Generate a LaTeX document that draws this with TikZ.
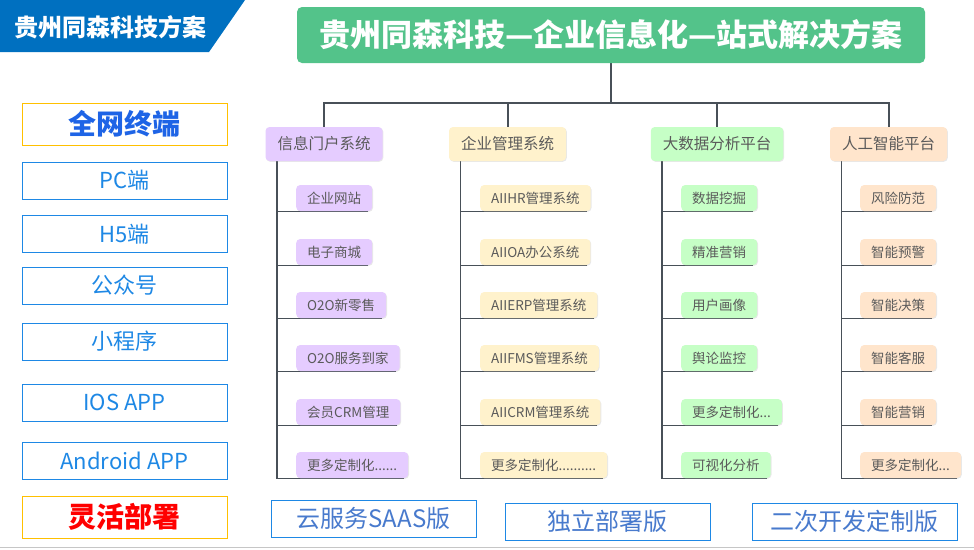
\documentclass[tikz,border=0pt]{standalone}
\usepackage{fontspec}
\setmainfont{Noto Sans CJK SC}
\usepackage{tikz}
\usetikzlibrary{shadows,backgrounds}
\newcommand\fs[1]{\fontsize{#1}{#1}\selectfont}
\definecolor{banner_blue}{RGB}{0,112,192}
\definecolor{title_green}{RGB}{83,195,138}
\definecolor{edge_gray}{RGB}{72,80,88}
\definecolor{node_purple}{RGB}{229,204,255}
\definecolor{node_yellow}{RGB}{255,242,204}
\definecolor{node_green}{RGB}{198,255,198}
\definecolor{node_orange}{RGB}{255,229,204}
\definecolor{text_gray}{RGB}{90,90,90}
\definecolor{term_blue}{RGB}{30,136,229}
\definecolor{deep_blue}{RGB}{30,100,230}
\definecolor{edge_gold}{RGB}{255,192,0}
\definecolor{ver_blue}{RGB}{72,122,205}

\begin{document}
\begin{tikzpicture}[x=1pt,y=-1pt]
    \tikzstyle{shade}=[drop shadow={opacity=.18,shadow xshift=.8pt,shadow yshift=-.8pt}]
    \tikzstyle{cat}=[style=shade, rounded corners=4pt, minimum height=34pt, inner xsep=12pt, text=text_gray, font=\fs{15.5}]
    \tikzstyle{leaf}=[style=shade, rounded corners=4pt, minimum height=26pt, inner xsep=11pt, anchor=west, text=text_gray, font=\fs{13.5}]
    \tikzstyle{term}=[draw=term_blue, line width=1pt, minimum width=205pt, minimum height=37pt, text=term_blue, font=\fs{22}]
    \tikzstyle{hilite}=[style=term, draw=edge_gold, minimum height=42pt, font=\bfseries\fs{28}]
    \tikzstyle{ver}=[style=term, text=ver_blue, font=\fs{24}]
    \tikzstyle{trunk}=[draw=edge_gray, line width=2pt]
    \tikzstyle{spine}=[draw=edge_gray, line width=1.4pt]

    \useasboundingbox (0,0) rectangle (974,549);
    \begin{scope}[on background layer]
    \fill[white] (0,0) rectangle (974,549);
    \end{scope}

    \fill[banner_blue] (0,0) -- (245,0) -- (209,52) -- (0,52) -- cycle;
    \node[text=white, font=\bfseries\fs{24}] (brand) at (110,27) {贵州同森科技方案};
    \node[rounded corners=5pt, fill=title_green, text=white, font=\bfseries\fs{31}, minimum width=628pt, minimum height=56pt] (title) at (611,35) {贵州同森科技—企业信息化—站式解决方案};

    % left column
    \node[hilite, text=deep_blue] (t0) at (124.5,124)   {全网终端};
    \node[term] (t1) at (124.5,180.5) {PC端};
    \node[term] (t2) at (124.5,234)   {H5端};
    \node[term] (t3) at (124.5,285.5) {公众号};
    \node[term] (t4) at (124.5,341.5) {小程序};
    \node[term] (t5) at (124.5,402.5) {IOS APP};
    \node[term] (t6) at (124.5,460.5) {Android APP};
    \node[hilite, text=red] (t7) at (124.5,517) {灵活部署};

    % categories
    \node[cat, fill=node_purple] (c1) at (324,144)   {信息门户系统};
    \node[cat, fill=node_yellow] (c2) at (507.5,144) {企业管理系统};
    \node[cat, fill=node_green]  (c3) at (717,144)   {大数据分析平台};
    \node[cat, fill=node_orange] (c4) at (888.5,144) {人工智能平台};

    \node[leaf, fill=node_purple] (p1) at (296,198) {企业网站};
    \node[leaf, fill=node_purple] (p2) at (296,252) {电子商城};
    \node[leaf, fill=node_purple] (p3) at (296,305) {O2O新零售};
    \node[leaf, fill=node_purple] (p4) at (296,358) {O2O服务到家};
    \node[leaf, fill=node_purple] (p5) at (296,412) {会员CRM管理};
    \node[leaf, fill=node_purple] (p6) at (296,465) {更多定制化......};

    \node[leaf, fill=node_yellow] (y1) at (480,198) {AIIHR管理系统};
    \node[leaf, fill=node_yellow] (y2) at (480,252) {AIIOA办公系统};
    \node[leaf, fill=node_yellow] (y3) at (480,305) {AIIERP管理系统};
    \node[leaf, fill=node_yellow] (y4) at (480,358) {AIIFMS管理系统};
    \node[leaf, fill=node_yellow] (y5) at (480,412) {AIICRM管理系统};
    \node[leaf, fill=node_yellow] (y6) at (480,465) {更多定制化..........};

    \node[leaf, fill=node_green] (g1) at (681,198) {数据挖掘};
    \node[leaf, fill=node_green] (g2) at (681,252) {精准营销};
    \node[leaf, fill=node_green] (g3) at (681,305) {用户画像};
    \node[leaf, fill=node_green] (g4) at (681,358) {舆论监控};
    \node[leaf, fill=node_green] (g5) at (681,412) {更多定制化...};
    \node[leaf, fill=node_green] (g6) at (681,465) {可视化分析};

    \node[leaf, fill=node_orange] (o1) at (860,198) {风险防范};
    \node[leaf, fill=node_orange] (o2) at (860,252) {智能预警};
    \node[leaf, fill=node_orange] (o3) at (860,305) {智能决策};
    \node[leaf, fill=node_orange] (o4) at (860,358) {智能客服};
    \node[leaf, fill=node_orange] (o5) at (860,412) {智能营销};
    \node[leaf, fill=node_orange] (o6) at (860,465) {更多定制化...};

    % versions
    \node[ver] (v1) at (373.5,518.5) {云服务SAAS版};
    \node[ver] (v2) at (607.5,521.5) {独立部署版};
    \node[ver] (v3) at (854.5,521.5) {二次开发定制版};

    \begin{scope}[on background layer]
    \draw[trunk] (title.south) -- ++(0,40) -| (c1.north);
    \draw[trunk] (title.south) -- ++(0,40) -| (c2.north);
    \draw[trunk] (title.south) -- ++(0,40) -| (c3.north);
    \draw[trunk] (title.south) -- ++(0,40) -| (c4.north);
    \draw[spine] ([xshift=11.5pt]c1.south west) |- ([xshift=-4pt]p1.south east);
    \draw[spine] ([xshift=11.5pt]c1.south west) |- ([xshift=-4pt]p2.south east);
    \draw[spine] ([xshift=11.5pt]c1.south west) |- ([xshift=-4pt]p3.south east);
    \draw[spine] ([xshift=11.5pt]c1.south west) |- ([xshift=-4pt]p4.south east);
    \draw[spine] ([xshift=11.5pt]c1.south west) |- ([xshift=-4pt]p5.south east);
    \draw[spine] ([xshift=11.5pt]c1.south west) |- ([xshift=-4pt]p6.south east);
    \draw[spine] ([xshift=11.5pt]c2.south west) |- ([xshift=-4pt]y1.south east);
    \draw[spine] ([xshift=11.5pt]c2.south west) |- ([xshift=-4pt]y2.south east);
    \draw[spine] ([xshift=11.5pt]c2.south west) |- ([xshift=-4pt]y3.south east);
    \draw[spine] ([xshift=11.5pt]c2.south west) |- ([xshift=-4pt]y4.south east);
    \draw[spine] ([xshift=11.5pt]c2.south west) |- ([xshift=-4pt]y5.south east);
    \draw[spine] ([xshift=11.5pt]c2.south west) |- ([xshift=-4pt]y6.south east);
    \draw[spine] ([xshift=11.5pt]c3.south west) |- ([xshift=-4pt]g1.south east);
    \draw[spine] ([xshift=11.5pt]c3.south west) |- ([xshift=-4pt]g2.south east);
    \draw[spine] ([xshift=11.5pt]c3.south west) |- ([xshift=-4pt]g3.south east);
    \draw[spine] ([xshift=11.5pt]c3.south west) |- ([xshift=-4pt]g4.south east);
    \draw[spine] ([xshift=11.5pt]c3.south west) |- ([xshift=-4pt]g5.south east);
    \draw[spine] ([xshift=11.5pt]c3.south west) |- ([xshift=-4pt]g6.south east);
    \draw[spine] ([xshift=11.5pt]c4.south west) |- ([xshift=-4pt]o1.south east);
    \draw[spine] ([xshift=11.5pt]c4.south west) |- ([xshift=-4pt]o2.south east);
    \draw[spine] ([xshift=11.5pt]c4.south west) |- ([xshift=-4pt]o3.south east);
    \draw[spine] ([xshift=11.5pt]c4.south west) |- ([xshift=-4pt]o4.south east);
    \draw[spine] ([xshift=11.5pt]c4.south west) |- ([xshift=-4pt]o5.south east);
    \draw[spine] ([xshift=11.5pt]c4.south west) |- ([xshift=-4pt]o6.south east);
    \end{scope}

    \draw[gray!45, line width=1.5pt] (0,547.5) -- (974,547.5);
\end{tikzpicture}
\end{document}
